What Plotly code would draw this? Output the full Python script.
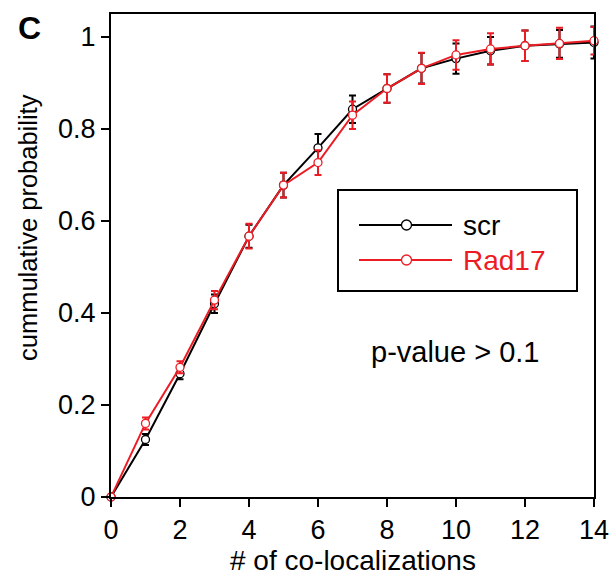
import plotly.graph_objects as go

# ---- data ----
x_vals = list(range(0, 15))
scr = [0, 0.125, 0.268, 0.420, 0.567, 0.678, 0.759, 0.843, 0.888, 0.932, 0.953, 0.970, 0.981, 0.985, 0.988]
scr_err = [0, 0.012, 0.012, 0.020, 0.025, 0.027, 0.030, 0.030, 0.031, 0.033, 0.033, 0.030, 0.033, 0.030, 0.035]
rad17 = [0, 0.160, 0.282, 0.428, 0.567, 0.678, 0.727, 0.830, 0.888, 0.932, 0.961, 0.974, 0.981, 0.986, 0.992]
rad17_err = [0, 0.013, 0.013, 0.020, 0.027, 0.027, 0.027, 0.030, 0.031, 0.034, 0.032, 0.034, 0.033, 0.034, 0.030]
x_ticks = [0, 2, 4, 6, 8, 10, 12, 14]
y_ticks = [0, 0.2, 0.4, 0.6, 0.8, 1]
y_tick_labels = ["0", "0.2", "0.4", "0.6", "0.8", "1"]

BLACK = "#000000"
RED = "#ed1c24"
FONT = "Liberation Sans, Arial, sans-serif"
FS = 27

fig = go.Figure()

def add_series(y, err, color, name):
    fig.add_trace(go.Scatter(
        x=x_vals, y=y, name=name, mode="lines+markers",
        line=dict(color=color, width=2),
        marker=dict(symbol="circle", size=8, color="white",
                    line=dict(color=color, width=1.3)),
        error_y=dict(type="data", array=err, visible=True,
                     color=color, thickness=2, width=3.5),
        cliponaxis=False, showlegend=False,
    ))

add_series(scr, scr_err, BLACK, "scr")
add_series(rad17, rad17_err, RED, "Rad17")

# plot area in pixels: left 111, right 594, top 14, bottom 497
L, R, T, B = 111, 594, 14, 497
W, H = R - L, B - T

def px(xp):
    return (xp - L) / W

def py(yp):
    return (B - yp) / H

shapes = []
annotations = []

# manual legend box
shapes.append(dict(type="rect", xref="paper", yref="paper",
                   x0=px(338), x1=px(577), y0=py(291), y1=py(190),
                   line=dict(color=BLACK, width=2), fillcolor="white", layer="above"))
for yy, col, name in [(225, BLACK, "scr"), (260, RED, "Rad17")]:
    shapes.append(dict(type="line", xref="paper", yref="paper",
                       x0=px(359), x1=px(452), y0=py(yy), y1=py(yy),
                       line=dict(color=col, width=2), layer="above"))
    shapes.append(dict(type="circle", xref="paper", yref="paper",
                       xsizemode="pixel", ysizemode="pixel",
                       xanchor=px(406.5), yanchor=py(yy),
                       x0=-5, x1=5, y0=-5, y1=5,
                       line=dict(color=col, width=1.3), fillcolor="white", layer="above"))
    annotations.append(dict(xref="paper", yref="paper", x=px(461), y=py(yy),
                            xanchor="left", yanchor="middle", showarrow=False,
                            text=name, font=dict(family=FONT, size=28, color=col)))

annotations += [
    dict(xref="paper", yref="paper", x=px(455), y=py(352), text="p-value > 0.1",
         showarrow=False, xanchor="center", yanchor="middle",
         font=dict(family=FONT, size=29, color=BLACK)),
    dict(xref="paper", yref="paper", x=px(353), y=py(560), text="# of co-localizations",
         showarrow=False, xanchor="center", yanchor="middle",
         font=dict(family=FONT, size=28, color=BLACK)),
    dict(xref="paper", yref="paper", x=px(28), y=py(228), text="cummulative probability",
         textangle=-90, showarrow=False, xanchor="center", yanchor="middle",
         font=dict(family=FONT, size=25.5, color=BLACK)),
    dict(xref="paper", yref="paper", x=px(29), y=py(28), text="<b>C</b>",
         showarrow=False, xanchor="center", yanchor="middle",
         font=dict(family=FONT, size=32, color=BLACK)),
]

fig.update_layout(
    width=612, height=583, autosize=False,
    margin=dict(l=L, r=612 - R, t=T, b=583 - B, pad=0, autoexpand=False),
    paper_bgcolor="white", plot_bgcolor="white",
    font=dict(family=FONT, size=FS, color=BLACK),
    showlegend=False,
    shapes=shapes, annotations=annotations,
    xaxis=dict(range=[0, 14], tickvals=x_ticks, ticks="outside", ticklen=8,
               tickwidth=2, tickcolor=BLACK, showline=True, linewidth=2,
               linecolor=BLACK, mirror=True, showgrid=False, zeroline=False,
               automargin=False,
               tickfont=dict(family=FONT, size=FS, color=BLACK)),
    yaxis=dict(range=[0, 1.05], tickvals=y_ticks, ticktext=y_tick_labels,
               ticks="outside", ticklen=8, tickwidth=2, tickcolor=BLACK,
               showline=True, linewidth=2, linecolor=BLACK, mirror=True,
               showgrid=False, zeroline=False, automargin=False,
               tickfont=dict(family=FONT, size=FS, color=BLACK)),
)

fig.write_html(
    "out.html",
    config={"displayModeBar": False, "responsive": False},
    post_script=("document.documentElement.style.margin='0';"
                 "document.documentElement.style.overflow='hidden';"
                 "document.body.style.margin='0';"
                 "document.body.style.padding='0';"
                 "document.body.style.overflow='hidden';"),
)
